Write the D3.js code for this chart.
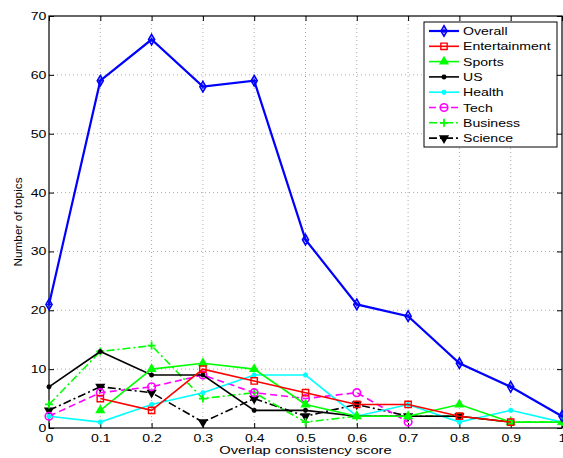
<!DOCTYPE html>
<html>
<head>
<meta charset="utf-8">
<script src="https://cdn.jsdelivr.net/npm/d3@7"></script>
<style>
  body { margin: 0; background: #fff; }
  text { font-family: "Liberation Sans", Arial, sans-serif; }
</style>
</head>
<body>
<svg id="chart" width="563" height="458"></svg>
<script>
// Overlap consistency score vs number of topics, one line per category.
const scores = [0, 0.1, 0.2, 0.3, 0.4, 0.5, 0.6, 0.7, 0.8, 0.9, 1];
const xTicks = [0, 0.1, 0.2, 0.3, 0.4, 0.5, 0.6, 0.7, 0.8, 0.9, 1];
const yTicks = [0, 10, 20, 30, 40, 50, 60, 70];

const overall       = [21, 59, 66, 58, 59, 32, 21, 19, 11, 7, 2];
const entertainment = [null, 5, 3, 10, 8, 6, 4, 4, 2, 1, null];
const sports        = [null, 3, 10, 11, 10, 4, 2, 2, 4, 1, 1];
const us            = [7, 13, 9, 9, 3, 3, 2, 2, 2, 1, null];
const health        = [2, 1, 4, 6, 9, 9, 2, 4, 1, 3, 1];
const tech          = [2, 6, 7, 9, 6, 5, 6, 1, null, null, null];
const business      = [4, 13, 14, 5, 6, 1, 2, 2, 2, 1, 1];
const science       = [3, 7, 6, 1, 5, 2, 4, 2, 2, null, null];

const series = [
  { name: 'Overall',       values: overall,       color: '#0000ff', dash: null,      marker: 'diamond',  width: 2.2 },
  { name: 'Entertainment', values: entertainment, color: '#ff0000', dash: null,      marker: 'square',   width: 1.6 },
  { name: 'Sports',        values: sports,        color: '#00ff00', dash: null,      marker: 'triangle', width: 1.6 },
  { name: 'US',            values: us,            color: '#000000', dash: null,      marker: 'asterisk', width: 1.6 },
  { name: 'Health',        values: health,        color: '#00ffff', dash: null,      marker: 'dot',      width: 1.6 },
  { name: 'Tech',          values: tech,          color: '#ff00ff', dash: '7,4',     marker: 'circle',   width: 1.6 },
  { name: 'Business',      values: business,      color: '#00ff00', dash: '8,3,2,3', marker: 'plus',     width: 1.6 },
  { name: 'Science',       values: science,       color: '#000000', dash: '8,3,2,3', marker: 'tridown',  width: 1.6 },
];

const svg = d3.select('#chart');
const mLeft = 49, mRight = 562, mTop = 16, mBottom = 428;
// the source figure is stretched sideways, so text is wider than its height
const stretch = 'scale(1.28,1)';

const x = d3.scaleLinear().domain([0, 1]).range([mLeft, mRight]);
const y = d3.scaleLinear().domain([0, 70]).range([mBottom, mTop]);

// dotted grid
const grid = svg.append('g').attr('stroke', '#aaa').attr('stroke-width', 1).attr('stroke-dasharray', '1,3');
grid.selectAll('.gx').data(xTicks.slice(1, -1)).join('line')
    .attr('x1', d => x(d)).attr('x2', d => x(d)).attr('y1', mTop).attr('y2', mBottom);
grid.selectAll('.gy').data(yTicks.slice(1, -1)).join('line')
    .attr('x1', mLeft).attr('x2', mRight).attr('y1', d => y(d)).attr('y2', d => y(d));

// axes: matlab style, ticks pointing inward on all four sides
const tickFmt = d => d === 0 ? '0' : d3.format('~g')(d);
svg.append('g').attr('class', 'xb').attr('transform', `translate(0,${mBottom})`)
    .call(d3.axisBottom(x).tickValues(xTicks).tickFormat(tickFmt).tickSizeInner(-5).tickSizeOuter(0).tickPadding(6))
    .call(g => g.select('.domain').remove());
svg.append('g').attr('transform', `translate(0,${mTop})`)
    .call(d3.axisTop(x).tickValues(xTicks).tickFormat('').tickSizeInner(-5).tickSizeOuter(0))
    .call(g => g.select('.domain').remove());
svg.append('g').attr('class', 'yl').attr('transform', `translate(${mLeft},0)`)
    .call(d3.axisLeft(y).tickValues(yTicks).tickSizeInner(-5).tickSizeOuter(0).tickPadding(2))
    .call(g => g.select('.domain').remove());
svg.append('g').attr('transform', `translate(${mRight},0)`)
    .call(d3.axisRight(y).tickValues(yTicks).tickFormat('').tickSizeInner(-5).tickSizeOuter(0))
    .call(g => g.select('.domain').remove());
svg.selectAll('.tick text').attr('font-size', 11).attr('fill', '#000')
    .attr('font-family', '"Liberation Sans", Arial, sans-serif')
    .attr('transform', stretch);
svg.selectAll('.tick line').attr('stroke', '#000');

svg.append('rect').attr('x', mLeft).attr('y', mTop)
    .attr('width', mRight - mLeft).attr('height', mBottom - mTop)
    .attr('fill', 'none').attr('stroke', '#000').attr('stroke-width', 1.2);

// marker shapes
const asterisk = {
  draw(ctx, size) {
    const r = Math.sqrt(size) / 2;
    for (let i = 0; i < 4; i++) {
      const a = i * Math.PI / 4;
      ctx.moveTo(-r * Math.cos(a), -r * Math.sin(a));
      ctx.lineTo(r * Math.cos(a), r * Math.sin(a));
    }
  }
};
function drawMarker(g, s) {
  const c = s.color;
  switch (s.marker) {
    case 'diamond':
      g.append('path').attr('d', d3.symbol(d3.symbolDiamond, 32)()).attr('fill', 'none').attr('stroke', c).attr('stroke-width', 1.6);
      g.append('path').attr('d', d3.symbol(d3.symbolCross, 10)()).attr('fill', c);
      break;
    case 'square':
      g.append('path').attr('d', d3.symbol(d3.symbolSquare, 40)()).attr('fill', 'none').attr('stroke', c).attr('stroke-width', 1.4);
      break;
    case 'triangle':
      g.append('path').attr('d', d3.symbol(d3.symbolTriangle, 45)()).attr('fill', c);
      break;
    case 'tridown':
      g.append('path').attr('d', d3.symbol(d3.symbolTriangle, 45)()).attr('transform', 'rotate(180)').attr('fill', c);
      break;
    case 'asterisk':
      g.append('path').attr('d', d3.symbol(asterisk, 25)()).attr('fill', 'none').attr('stroke', c).attr('stroke-width', 1.5);
      break;
    case 'dot':
      g.append('path').attr('d', d3.symbol(asterisk, 25)()).attr('fill', 'none').attr('stroke', c).attr('stroke-width', 1.5);
      g.append('circle').attr('r', 2.2).attr('fill', c);
      break;
    case 'circle':
      g.append('circle').attr('r', 3.8).attr('fill', 'none').attr('stroke', c).attr('stroke-width', 1.6);
      break;
    case 'plus':
      g.append('path').attr('d', 'M-4,0H4M0,-4V4').attr('stroke', c).attr('stroke-width', 1.8);
      break;
  }
}

// lines and markers; drawn in reverse so Overall is on top
const line = d3.line().defined(d => d.v != null).x(d => x(d.x)).y(d => y(d.v));
const layers = svg.append('g');
series.slice().reverse().forEach(s => {
  const pts = s.values.map((v, i) => ({ x: scores[i], v }));
  const g = layers.append('g');
  g.append('path').datum(pts).attr('d', line)
      .attr('fill', 'none').attr('stroke', s.color).attr('stroke-width', s.width)
      .attr('stroke-dasharray', s.dash);
  g.selectAll('.m').data(pts.filter(d => d.v != null)).join('g')
      .attr('transform', d => `translate(${x(d.x)},${y(d.v)})`)
      .each(function() { drawMarker(d3.select(this), s); });
});

// legend
const lg = svg.append('g').attr('transform', 'translate(424,22)');
lg.append('rect').attr('width', 133).attr('height', 125)
    .attr('fill', '#fff').attr('stroke', '#000').attr('stroke-width', 1);
series.forEach((s, i) => {
  const row = lg.append('g').attr('transform', `translate(0,${9 + i * 15.3})`);
  row.append('line').attr('x1', 5).attr('x2', 35)
      .attr('stroke', s.color).attr('stroke-width', s.width)
      .attr('stroke-dasharray', s.dash);
  drawMarker(row.append('g').attr('transform', 'translate(20,0)'), s);
  row.append('g').attr('transform', 'translate(39,4)')
    .append('text').attr('transform', stretch).attr('font-size', 11).text(s.name);
});

// axis titles
svg.append('g').attr('transform', `translate(${(mLeft + mRight) / 2},454)`)
  .append('text').attr('transform', stretch)
    .attr('text-anchor', 'middle').attr('font-size', 11.5).text('Overlap consistency score');
svg.append('text').attr('transform', 'translate(22,222) rotate(-90)')
    .attr('text-anchor', 'middle').attr('font-size', 11.8).text('Number of topics');
</script>
</body>
</html>
